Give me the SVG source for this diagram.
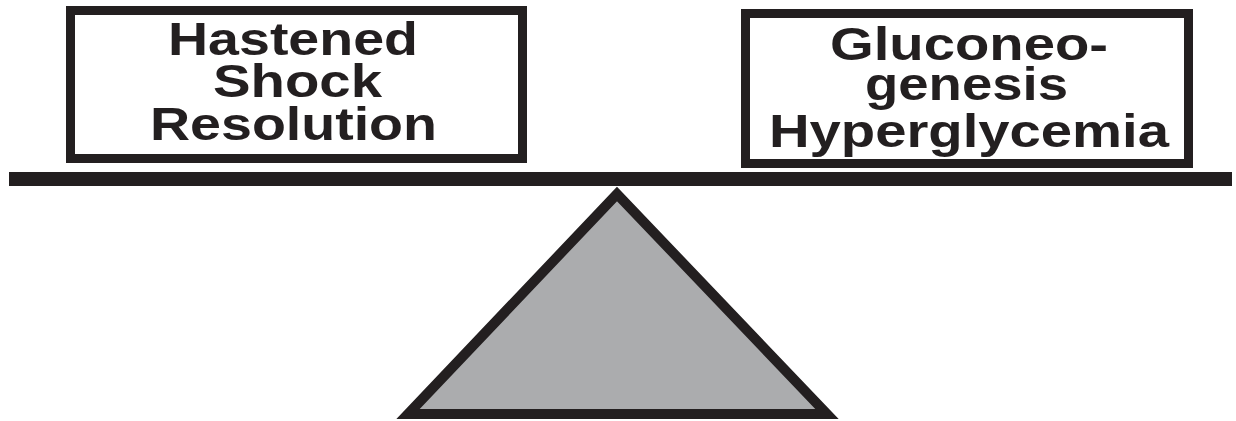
<svg xmlns="http://www.w3.org/2000/svg" width="1236" height="421" viewBox="0 0 1236 421">
<style>
.box{fill:#fff;stroke:#231f20;stroke-width:9}
.lbl{font-family:"Liberation Sans",Arial,sans-serif;font-weight:bold;font-size:46px;fill:#231f20;text-anchor:middle}
</style>
<rect width="1236" height="421" fill="#fff"/>
<g id="fulcrum">
<polygon points="617,194 408,414 827,414" fill="#abacae" stroke="#231f20" stroke-width="10" stroke-linejoin="miter"/>
</g>
<g id="beam">
<rect x="9" y="172" width="1223" height="14" fill="#231f20"/>
</g>
<g id="left-box">
<rect class="box" x="70.5" y="10.5" width="452" height="148"/>
<text class="lbl" x="293" y="55" textLength="250" lengthAdjust="spacingAndGlyphs">Hastened</text>
<text class="lbl" x="297.5" y="97" textLength="169" lengthAdjust="spacingAndGlyphs">Shock</text>
<text class="lbl" x="293.5" y="140" textLength="287" lengthAdjust="spacingAndGlyphs">Resolution</text>
</g>
<g id="right-box">
<rect class="box" x="745.5" y="13.5" width="443" height="150"/>
<text class="lbl" x="969" y="60" textLength="278" lengthAdjust="spacingAndGlyphs">Gluconeo-</text>
<text class="lbl" x="966.5" y="100" textLength="203" lengthAdjust="spacingAndGlyphs">genesis</text>
<text class="lbl" x="969" y="147" textLength="400" lengthAdjust="spacingAndGlyphs">Hyperglycemia</text>
</g>
</svg>
